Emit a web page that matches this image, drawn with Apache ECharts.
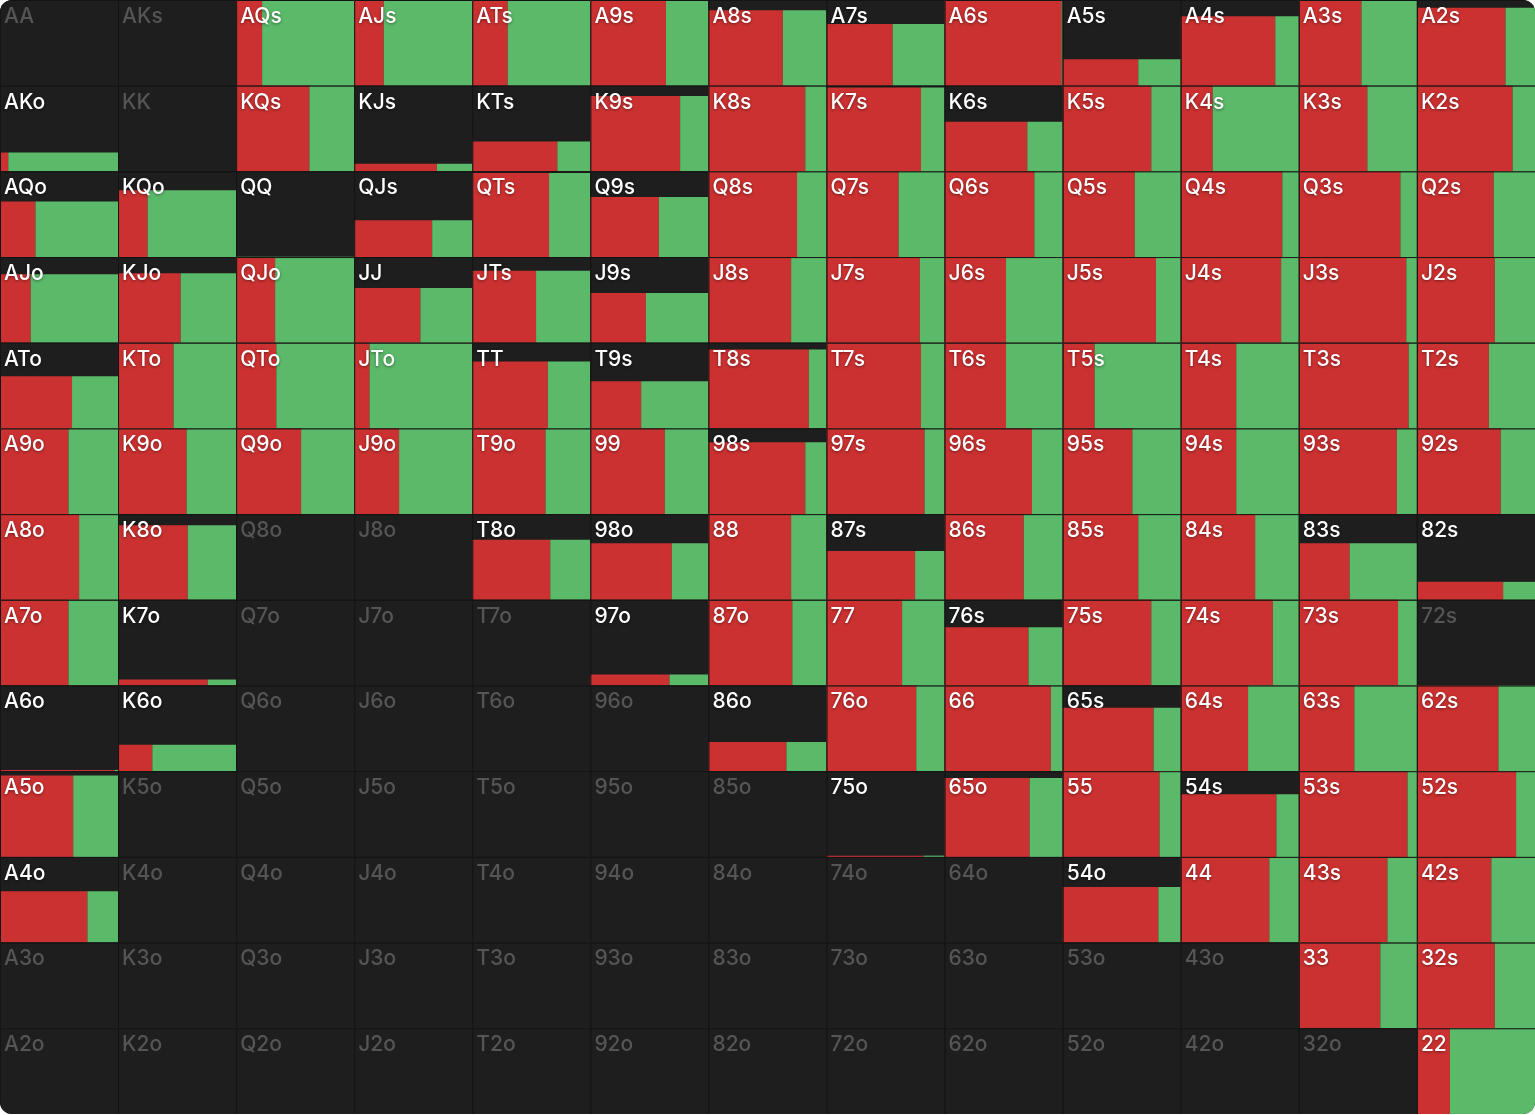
<!DOCTYPE html>
<html>
<head>
<meta charset="utf-8">
<script src="https://cdn.jsdelivr.net/npm/echarts@6/dist/echarts.min.js"></script>
<style>
  html, body { margin: 0; padding: 0; background: #ffffff; }
  #chart { width: 1535px; height: 1114px; border-radius: 12px; overflow: hidden; background: #1e1e1e; }
</style>
</head>
<body>
<div id="chart"></div>
<script>
// Hand ranks, from highest to lowest
const ranks = ['A', 'K', 'Q', 'J', 'T', '9', '8', '7', '6', '5', '4', '3', '2'];

// Share of each hand that is played (bar height, 0..1); row = first rank, col = second rank
const playFreq = [
  [0, 0, 1, 1, 1, 1, 0.88, 0.72, 1, 0.31, 0.81, 1, 0.91],
  [0.22, 0, 1, 0.09, 0.35, 0.88, 1, 0.98, 0.58, 1, 1, 1, 1],
  [0.65, 0.78, 0.003, 0.43, 0.98, 0.70, 1, 1, 1, 1, 1, 1, 1],
  [0.80, 0.81, 1, 0.64, 0.84, 0.58, 1, 1, 1, 1, 1, 1, 1],
  [0.61, 1, 1, 1, 0.78, 0.55, 0.92, 1, 1, 1, 1, 1, 1],
  [1, 1, 1, 1, 1, 1, 0.84, 1, 1, 1, 1, 1, 1],
  [1, 0.87, 0, 0, 0.70, 0.66, 1, 0.57, 1, 1, 1, 0.66, 0.21],
  [1, 0.07, 0, 0, 0, 0.13, 1, 1, 0.68, 1, 1, 1, 0],
  [0.015, 0.31, 0, 0, 0, 0, 0.34, 1, 1, 0.74, 1, 1, 1],
  [0.95, 0, 0, 0, 0, 0, 0, 0.015, 0.92, 1, 0.73, 1, 1],
  [0.60, 0, 0, 0, 0, 0, 0, 0, 0, 0.65, 1, 1, 1],
  [0, 0, 0, 0, 0, 0, 0, 0, 0, 0, 0, 1, 1],
  [0, 0, 0, 0, 0, 0, 0, 0, 0, 0, 0, 0, 1]
];

// Of the played part, share that is red (raise); rest is green (call)
const raiseShare = [
  [0, 0, 0.22, 0.25, 0.30, 0.64, 0.63, 0.56, 0.99, 0.64, 0.80, 0.53, 0.75],
  [0.07, 0, 0.62, 0.70, 0.72, 0.76, 0.82, 0.80, 0.70, 0.75, 0.27, 0.58, 0.81],
  [0.30, 0.25, 0, 0.66, 0.65, 0.58, 0.75, 0.61, 0.76, 0.61, 0.86, 0.86, 0.65],
  [0.26, 0.53, 0.33, 0.56, 0.54, 0.47, 0.70, 0.79, 0.52, 0.79, 0.85, 0.91, 0.66],
  [0.61, 0.47, 0.34, 0.13, 0.64, 0.43, 0.85, 0.80, 0.52, 0.27, 0.47, 0.93, 0.61],
  [0.58, 0.58, 0.55, 0.38, 0.62, 0.63, 0.82, 0.83, 0.74, 0.59, 0.47, 0.83, 0.71],
  [0.67, 0.59, 0, 0, 0.66, 0.69, 0.70, 0.75, 0.67, 0.64, 0.63, 0.43, 0.73],
  [0.58, 0.76, 0, 0, 0, 0.67, 0.71, 0.64, 0.71, 0.75, 0.78, 0.84, 0],
  [0.97, 0.29, 0, 0, 0, 0, 0.66, 0.76, 0.90, 0.77, 0.57, 0.47, 0.69],
  [0.62, 0, 0, 0, 0, 0, 0, 0.82, 0.72, 0.82, 0.81, 0.92, 0.84],
  [0.74, 0, 0, 0, 0, 0, 0, 0, 0, 0.81, 0.75, 0.75, 0.63],
  [0, 0, 0, 0, 0, 0, 0, 0, 0, 0, 0, 0.69, 0.66],
  [0, 0, 0, 0, 0, 0, 0, 0, 0, 0, 0, 0, 0.28]
];

function handLabel(r, c) {
  if (r === c) return ranks[r] + ranks[c];
  if (c > r) return ranks[r] + ranks[c] + 's';
  return ranks[c] + ranks[r] + 'o';
}

const cells = [];
for (let r = 0; r < 13; r++) {
  for (let c = 0; c < 13; c++) {
    cells.push([c, r, playFreq[r][c], raiseShare[r][c], handLabel(r, c)]);
  }
}

const RED = '#cc3131';
const GREEN = '#5bb96a';
const BG = '#1e1e1e';
const LINE = '#141414';

const chart = echarts.init(document.getElementById('chart'), null, { renderer: 'canvas' });
chart.setOption({
  animation: false,
  backgroundColor: BG,
  grid: { left: 0, right: 0, top: 0, bottom: 0 },
  xAxis: { type: 'value', min: 0, max: 13, show: false },
  yAxis: { type: 'value', min: 0, max: 13, inverse: true, show: false },
  series: [{
    type: 'custom',
    data: cells,
    encode: { x: 0, y: 1 },
    renderItem: function (params, api) {
      const col = api.value(0), row = api.value(1);
      const f = api.value(2), red = api.value(3);
      const label = cells[params.dataIndex][4];
      const p0 = api.coord([col, row]);
      const p1 = api.coord([col + 1, row + 1]);
      const x = p0[0], y = p0[1], w = p1[0] - p0[0], h = p1[1] - p0[1];
      const children = [];
      children.push({ type: 'rect', shape: { x: x, y: y, width: w, height: h }, style: { fill: BG } });
      if (f > 0) {
        const bh = h * f;
        const rw = w * red;
        children.push({ type: 'rect', shape: { x: x, y: y + h - bh, width: rw, height: bh }, style: { fill: RED } });
        children.push({ type: 'rect', shape: { x: x + rw, y: y + h - bh, width: w - rw, height: bh }, style: { fill: GREEN } });
      }
      children.push({ type: 'rect', shape: { x: x + 0.5, y: y + 0.5, width: w, height: h }, style: { fill: 'none', stroke: LINE, lineWidth: 1 } });
      const played = f > 0;
      children.push({
        type: 'text',
        style: {
          text: label,
          x: x + 4,
          y: y + 6,
          verticalAlign: 'top',
          align: 'left',
          fill: played ? '#ffffff' : '#555555',
          fontSize: 21,
          fontFamily: 'Inter, "Noto Sans", sans-serif',
          fontWeight: 500,
          textShadowColor: played ? 'rgba(0,0,0,0.45)' : 'transparent',
          textShadowBlur: played ? 3 : 0,
          textShadowOffsetY: played ? 1 : 0
        }
      });
      return { type: 'group', children: children };
    }
  }]
});
</script>
</body>
</html>
